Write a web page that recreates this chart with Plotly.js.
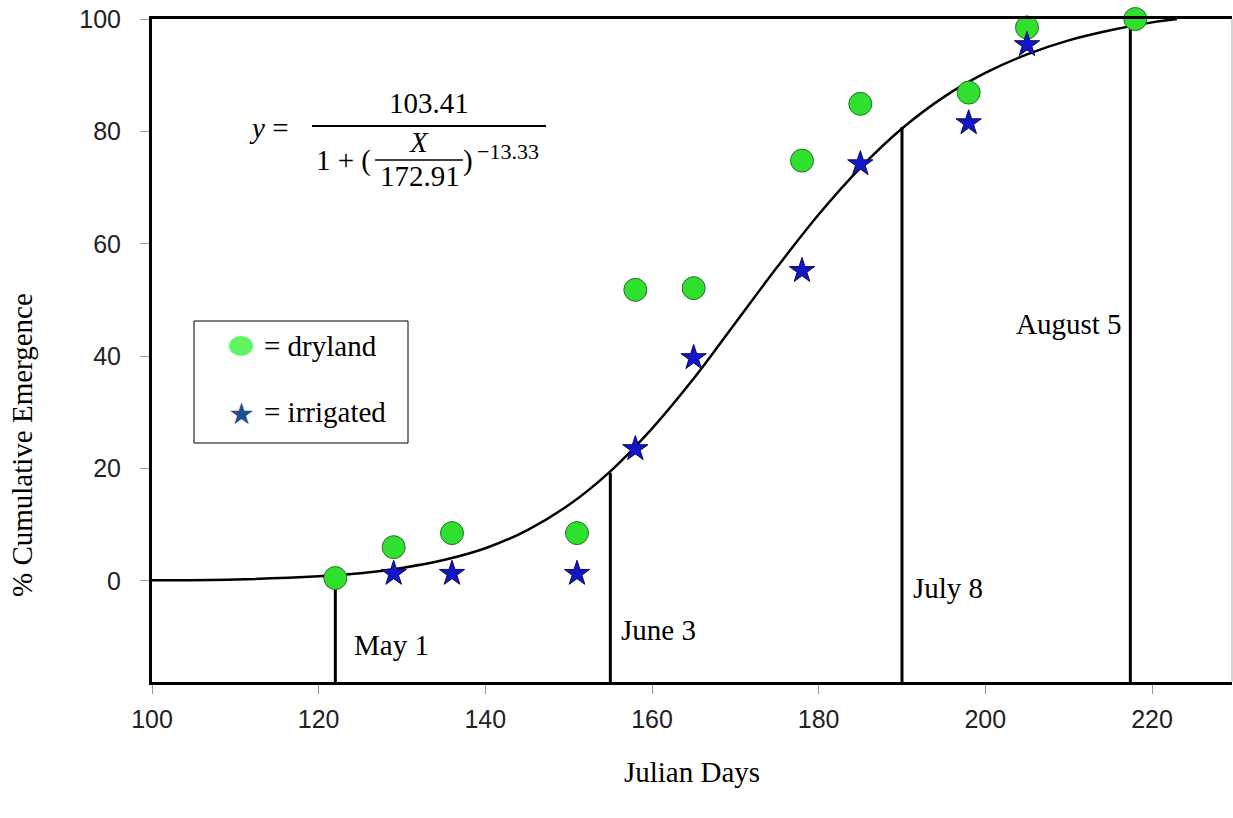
<!DOCTYPE html>
<html>
<head>
<meta charset="utf-8">
<script src="https://cdn.plot.ly/plotly-3.0.1.min.js"></script>
<style>html,body{margin:0;padding:0;background:#fff;}#chart{width:1233px;height:818px;}</style>
</head>
<body>
<div id="chart"></div>
<script>
// ---- data ----
const dryDays = [122, 129, 136, 151, 158, 165, 178, 185, 198, 205, 218];
const dryEmergence = [0.5, 6.0, 8.5, 8.5, 51.8, 52.1, 74.8, 84.9, 86.9, 98.5, 100];

const irrDays = [129, 136, 151, 158, 165, 178, 185, 198, 205];
const irrEmergence = [1.3, 1.3, 1.3, 23.5, 39.7, 55.2, 74.2, 81.5, 95.4];

const curveDays = [100, 110, 120, 125, 130, 135, 140, 145, 150, 155, 160, 165, 170, 175, 180, 185, 190, 195, 200, 205, 210, 215, 220, 223];
const curveEmergence = [0.1, 0.25, 0.8, 1.35, 2.3, 3.7, 5.8, 9.0, 13.5, 19.5, 27.1, 36.0, 45.9, 55.8, 65.2, 73.5, 80.5, 86.1, 90.4, 93.7, 96.2, 98.0, 99.4, 100];

const dateDays = [122, 155, 190, 217.4];
const dateTops = [0.8, 19.2, 80.8, 98.8];
const dateLabels = ["May 1", "June 3", "July 8", "August 5"];
const dateLabelY = [-11.4, -8.7, -1.2, 45.7];

const xTicks = [100, 120, 140, 160, 180, 200, 220];
const yTicks = [0, 20, 40, 60, 80, 100];

// ---- layout helpers (pixel -> paper) ----
const L = 152, T = 19, W = 1080, H = 663;
const px = v => (v - L) / W;
const py = v => (T + H - v) / H;

const serif = "Liberation Serif, Times New Roman, serif";

// vertical date lines built from arrays
const vx = [], vy = [];
dateDays.forEach((d, i) => { vx.push(d, d, null); vy.push(-18, dateTops[i], null); });

const traces = [
  {x: vx, y: vy, mode: "lines", line: {color: "#000", width: 3}, hoverinfo: "skip", showlegend: false},
  {x: curveDays, y: curveEmergence, mode: "lines", line: {color: "#000", width: 2.5, shape: "spline"}, showlegend: false, name: "fit"},
  {x: dryDays, y: dryEmergence, mode: "markers", name: "dryland", cliponaxis: false,
   marker: {symbol: "circle", size: 23, color: "#2fe02f", line: {color: "#2a6e2a", width: 1}}, showlegend: false},
  {x: irrDays, y: irrEmergence, mode: "markers", name: "irrigated", cliponaxis: false,
   marker: {symbol: "star", size: 19, color: "#1414c8", line: {color: "#0a0a55", width: 1}}, showlegend: false}
];

const annotations = [];
dateDays.forEach((d, i) => {
  const right = i === 3;
  annotations.push({x: d, y: dateLabelY[i], xref: "x", yref: "y", text: dateLabels[i], showarrow: false,
    xanchor: right ? "right" : "left", yanchor: "middle", xshift: right ? -6 : (i === 0 ? 17 : 9),
    font: {family: serif, size: 29, color: "#000"}});
});

function ptxt(text, x, y, size, anchor, extra) {
  annotations.push(Object.assign({xref: "paper", yref: "paper", x: px(x), y: py(y), text: text, showarrow: false,
    xanchor: anchor || "center", yanchor: "middle", font: {family: serif, size: size, color: "#000"}}, extra || {}));
}
// equation
ptxt("<i>y</i> =", 268, 128, 29);
ptxt("103.41", 429, 103, 29);
ptxt("1 + (", 343, 160, 29);
ptxt("<i>X</i>", 419, 142, 29);
ptxt("172.91", 420, 176, 29);
ptxt(")", 468, 160, 29);
ptxt("\u221213.33", 508, 152, 22);
// legend texts
ptxt("= dryland", 262, 346, 29, "left");
ptxt("= irrigated", 262, 412, 29, "left");
ptxt("\u2605", 241, 413, 30, "center", {font: {family: "DejaVu Sans, sans-serif", size: 30, color: "#1f4e8c"}});
// y axis title
ptxt("% Cumulative Emergence", 22, 445, 29, "center", {textangle: -90});

const shapes = [
  // equation bars
  {type: "line", xref: "paper", yref: "paper", x0: px(312), x1: px(546), y0: py(126), y1: py(126), line: {color: "#000", width: 2}},
  {type: "line", xref: "paper", yref: "paper", x0: px(375), x1: px(463), y0: py(160), y1: py(160), line: {color: "#000", width: 1.5}},
  // legend box
  {type: "rect", xref: "paper", yref: "paper", x0: px(194), x1: px(408), y0: py(443), y1: py(321), line: {color: "#000", width: 1}, fillcolor: "rgba(0,0,0,0)"},
  {type: "circle", xref: "paper", yref: "paper", x0: px(229), x1: px(253), y0: py(356), y1: py(336), line: {width: 0}, fillcolor: "#62f562"},
  // right border
  {type: "line", xref: "paper", yref: "paper", x0: 1, x1: 1, y0: 0, y1: 1, line: {color: "#aaa", width: 1}}
];

const tickFont = {family: "Liberation Sans, Arial, sans-serif", size: 25, color: "#222"};

const layout = {
  width: 1233, height: 818,
  margin: {l: L, r: 1, t: T, b: 818 - T - H, pad: 0},
  paper_bgcolor: "#fff", plot_bgcolor: "#fff",
  showlegend: false,
  xaxis: {range: [100, 229.6], tickvals: xTicks, ticktext: xTicks.map(String), ticks: "outside", ticklen: 9,
    tickcolor: "#999", tickwidth: 1, showline: true, linecolor: "#000", linewidth: 3, mirror: true,
    showgrid: false, zeroline: false, tickfont: tickFont, ticklabelstandoff: 4,
    title: {text: "Julian Days", font: {family: serif, size: 29, color: "#000"}, standoff: 30}},
  yaxis: {range: [-18, 100], tickvals: yTicks, ticktext: yTicks.map(String), ticks: "outside", ticklen: 9,
    tickcolor: "#999", tickwidth: 1, showline: true, linecolor: "#000", linewidth: 3, mirror: false,
    showgrid: false, zeroline: false, tickfont: tickFont, ticklabelstandoff: 14},
  annotations: annotations,
  shapes: shapes
};

Plotly.newPlot("chart", traces, layout, {displayModeBar: false, staticPlot: true});
</script>
</body>
</html>
